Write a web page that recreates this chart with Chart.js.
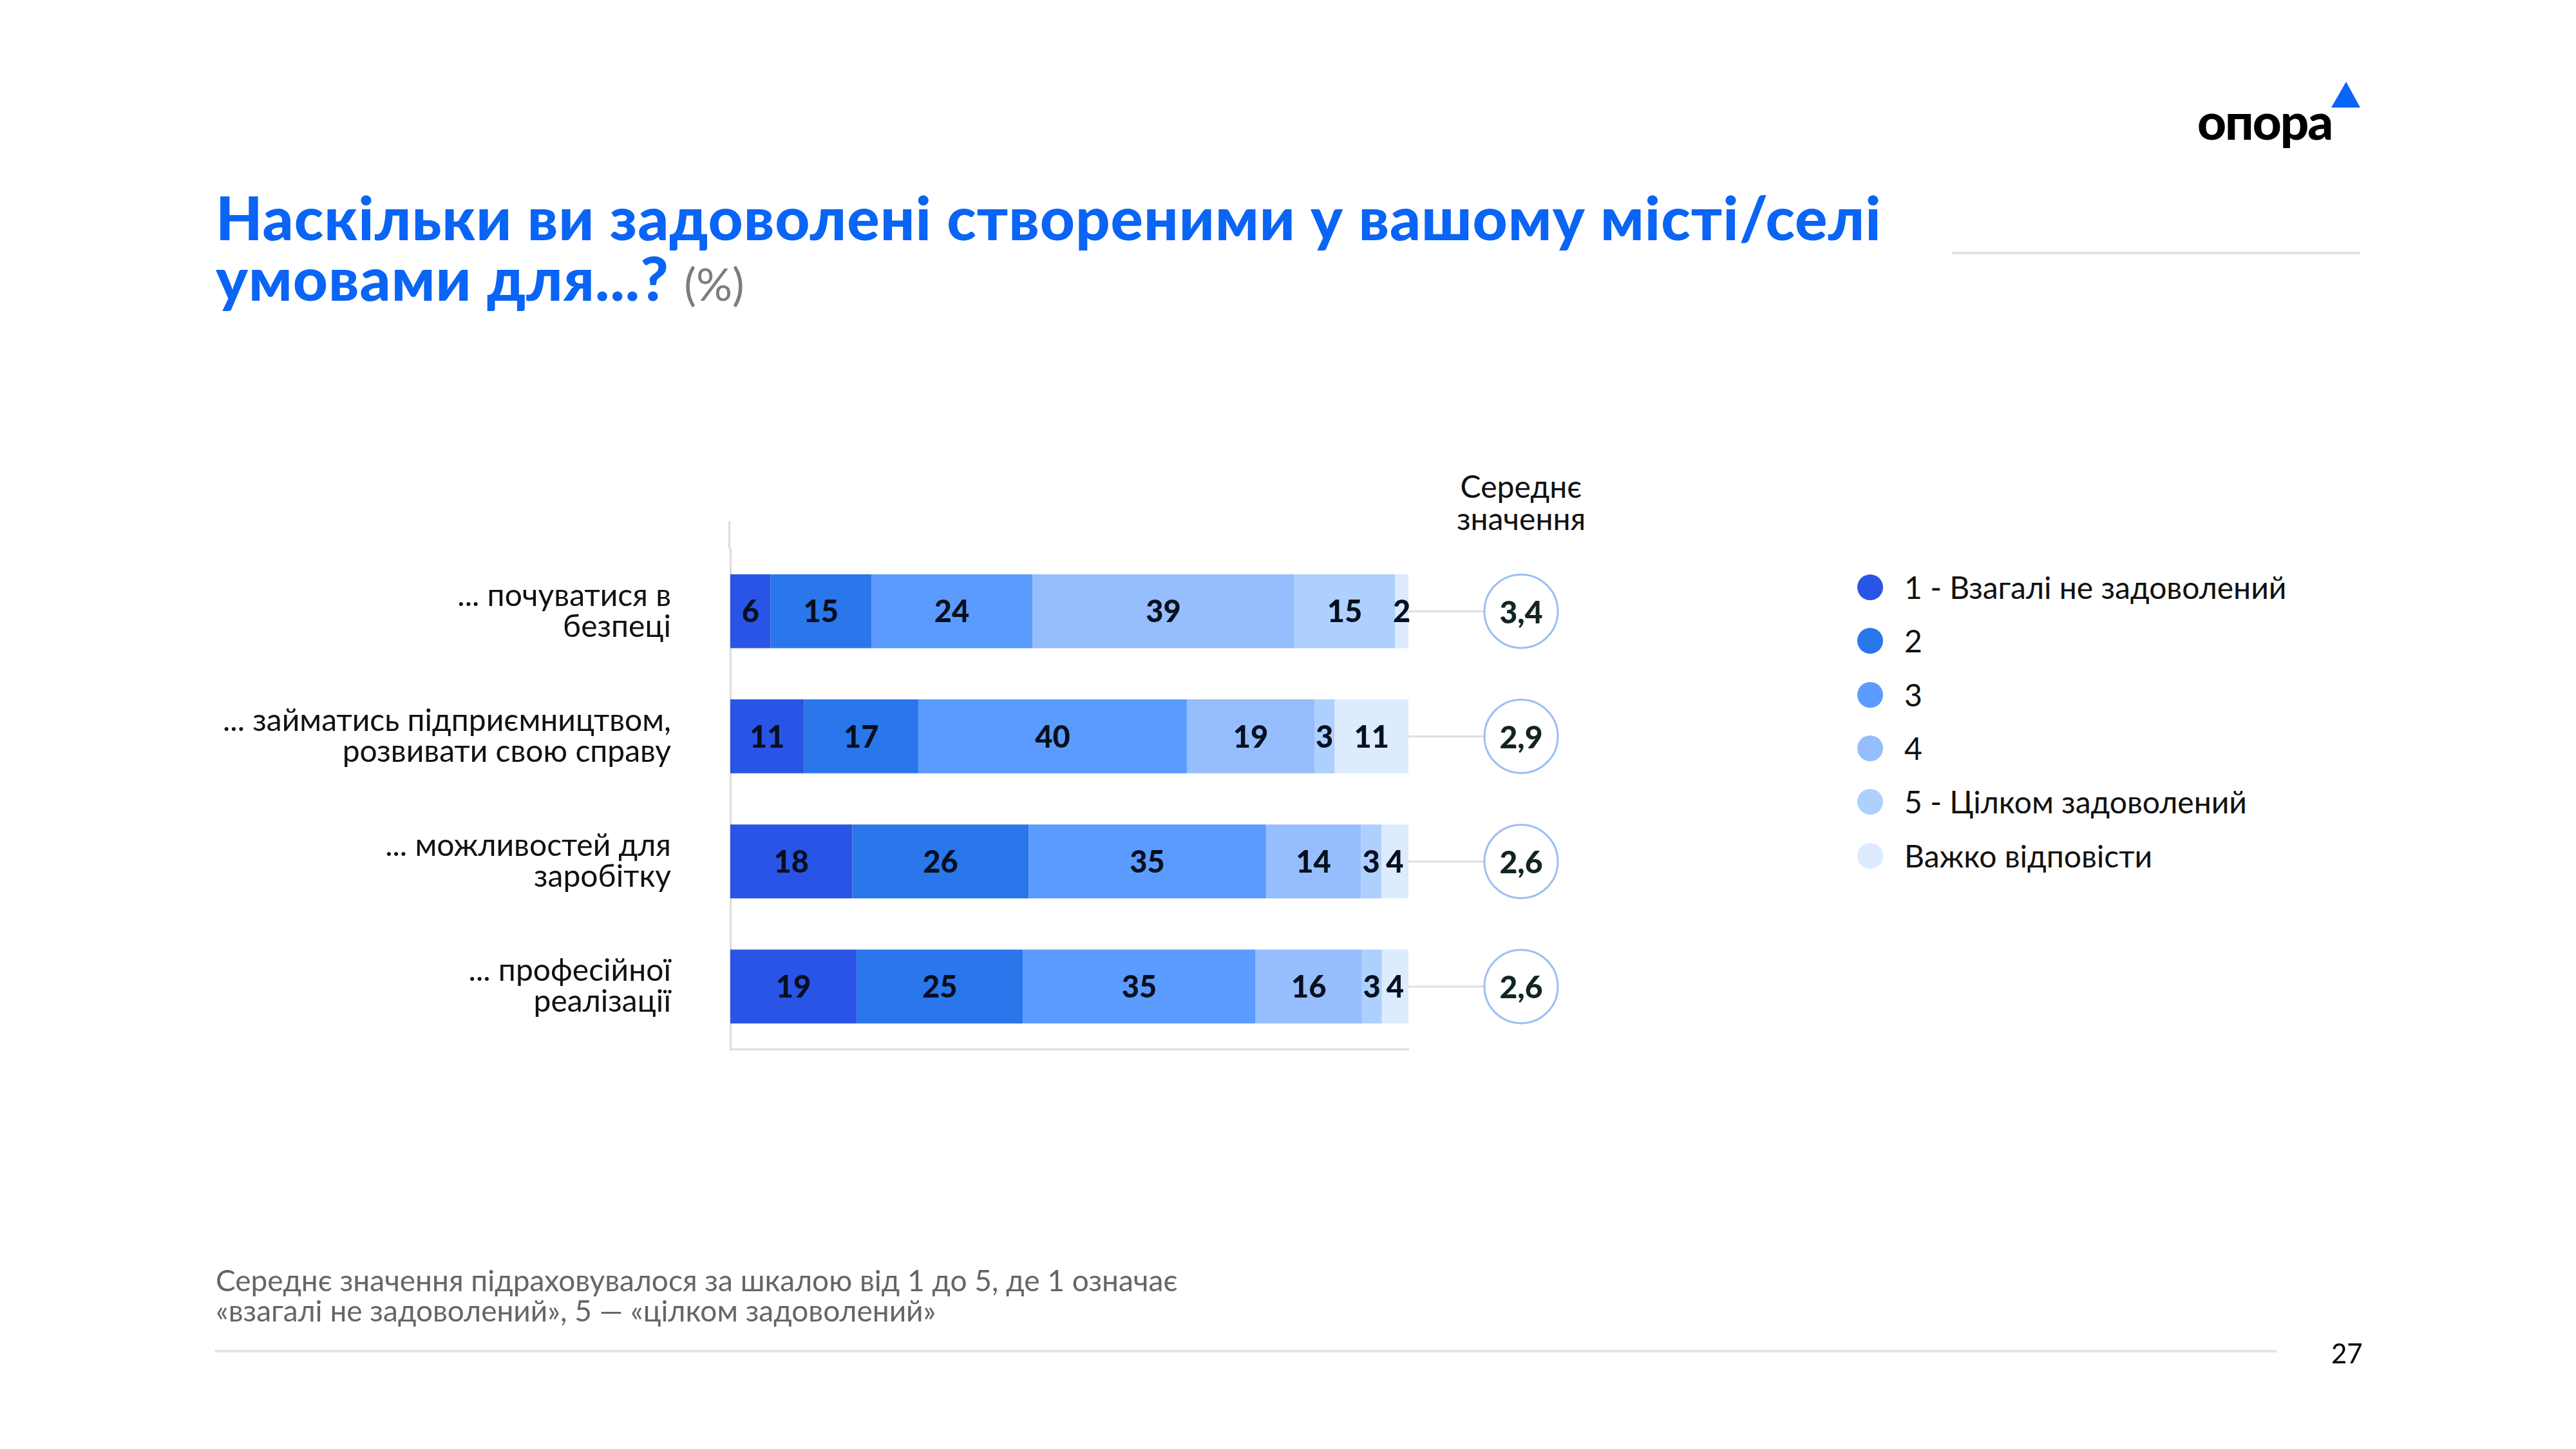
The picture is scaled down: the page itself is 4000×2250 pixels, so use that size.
<!DOCTYPE html>
<html lang="uk">
<head>
<meta charset="utf-8">
<title>Наскільки ви задоволені створеними у вашому місті/селі умовами</title>
<script src="https://cdn.jsdelivr.net/npm/chart.js@4.4.1/dist/chart.umd.min.js"></script>
<style>
  html, body { margin: 0; padding: 0; background: #fff; }
  body { width: 4000px; height: 2250px; position: relative; overflow: hidden; font-family: 'Lato', 'Noto Sans', sans-serif; color: #111; }
  #chart { position: absolute; left: 0; top: 0; }
  .abs { position: absolute; white-space: nowrap; }
  #title { left: 335px; top: 290px; font-size: 94px; line-height: 94px; font-weight: 900; color: #0a64f5; letter-spacing: 1px; }
  #title span { font-weight: 400; color: #7d7d7d; font-size: 70px; letter-spacing: 0; }
  #logo { left: 3412px; top: 140px; font-size: 78px; line-height: 94px; font-weight: 900; color: #000; letter-spacing: -2px; }
  #tri { position: absolute; left: 3618px; top: 126px; }
  .rule { position: absolute; height: 4px; background: #e3e3e3; }
  #meanHead { left: 2212px; top: 730px; width: 300px; text-align: center; font-size: 48px; line-height: 50px; color: #111; }
  #legend { left: 2884px; top: 0; }
  .leg { position: absolute; left: 0; height: 40px; }
  .leg i { position: absolute; left: 0; top: 0; width: 40px; height: 40px; border-radius: 50%; }
  .leg b { position: absolute; left: 73px; top: -9px; font-weight: 400; font-size: 48px; line-height: 58px; color: #111; }
  #note { left: 335px; top: 1964px; font-size: 46px; line-height: 47px; color: #666; }
  #page { left: 3620px; top: 2076px; font-size: 42px; line-height: 50px; color: #000; }
</style>
</head>
<body>
<div id="title" class="abs">Наскільки ви задоволені створеними у вашому місті/селі<br>умовами для...? <span>(%)</span></div>
<div id="logo" class="abs">опора</div>
<svg id="tri" width="50" height="44"><polygon points="25,1 2,41 47,41" fill="#0a64f5"/></svg>
<div class="rule" style="left:3031px; top:391px; width:634px;"></div>
<div id="meanHead" class="abs">Середнє<br>значення</div>
<div id="legend" class="abs"></div>
<canvas id="chart" width="4000" height="2250"></canvas>
<div id="note" class="abs">Середнє значення підраховувалося за шкалою від 1 до 5, де 1 означає<br>«взагалі не задоволений», 5 — «цілком задоволений»</div>
<div class="rule" style="left:334px; top:2096px; width:3201px;"></div>
<div id="page" class="abs">27</div>

<script>
// categories (multi-line labels as in the slide)
const categories = [
  ['... почуватися в', 'безпеці'],
  ['... займатись підприємництвом,', 'розвивати свою справу'],
  ['... можливостей для', 'заробітку'],
  ['... професійної', 'реалізації']
];

const seriesNames = ['1 - Взагалі не задоволений', '2', '3', '4', '5 - Цілком задоволений', 'Важко відповісти'];
const seriesColors = ['#2a54e6', '#2a76eb', '#5b9bfd', '#96bdfd', '#aed0fe', '#ddebfe'];

// percentages per answer, one value per category
const s1 = [6, 11, 18, 19];
const s2 = [15, 17, 26, 25];
const s3 = [24, 40, 35, 35];
const s4 = [39, 19, 14, 16];
const s5 = [15, 3, 3, 3];
const sHard = [2, 11, 4, 4];

// average score per category
const means = ['3,4', '2,9', '2,6', '2,6'];

const series = [s1, s2, s3, s4, s5, sHard];

// rows don't always add up to exactly 100 (rounding), bars are drawn full width
const rowTotals = categories.map((c, i) => series.reduce((sum, s) => sum + s[i], 0));

// legend (html)
const legendEl = document.getElementById('legend');
seriesNames.forEach((name, k) => {
  const row = document.createElement('div');
  row.className = 'leg';
  row.style.top = (892 + k * 83.3) + 'px';
  row.innerHTML = '<i style="background:' + seriesColors[k] + '"></i><b>' + name + '</b>';
  legendEl.appendChild(row);
});

const MEAN_DX = 175;   // distance of the mean circles from the end of the bars
const MEAN_R = 57;

const barLabels = {
  id: 'barLabels',
  afterDatasetsDraw(chart) {
    const ctx = chart.ctx;
    ctx.save();
    ctx.font = '900 47px Lato, "Noto Sans", sans-serif';
    ctx.fillStyle = '#07101f';
    ctx.textAlign = 'center';
    ctx.textBaseline = 'middle';
    chart.data.datasets.forEach((ds, d) => {
      chart.getDatasetMeta(d).data.forEach((bar, i) => {
        const x = (bar.x + bar.base) / 2;
        ctx.fillText(String(ds.raw[i]), x, bar.y + 2);
      });
    });
    ctx.restore();
  }
};

const meanCircles = {
  id: 'meanCircles',
  afterDraw(chart) {
    const ctx = chart.ctx;
    const area = chart.chartArea;
    const yScale = chart.scales.y;
    const cx = area.right + MEAN_DX;
    ctx.save();
    // axis line runs a bit above the first band
    ctx.strokeStyle = '#dcdcdc';
    ctx.lineWidth = 3;
    ctx.beginPath();
    ctx.moveTo(area.left - 1.5, area.top - 43);
    ctx.lineTo(area.left - 1.5, area.top);
    ctx.stroke();

    means.forEach((m, i) => {
      const y = yScale.getPixelForValue(i);
      ctx.strokeStyle = '#dedede';
      ctx.lineWidth = 3;
      ctx.beginPath();
      ctx.moveTo(area.right, y);
      ctx.lineTo(cx - MEAN_R, y);
      ctx.stroke();

      ctx.beginPath();
      ctx.arc(cx, y, MEAN_R, 0, Math.PI * 2);
      ctx.fillStyle = '#fff';
      ctx.fill();
      ctx.strokeStyle = '#9bbff3';
      ctx.lineWidth = 3;
      ctx.stroke();

      ctx.font = '900 48px Lato, "Noto Sans", sans-serif';
      ctx.fillStyle = '#122424';
      ctx.textAlign = 'center';
      ctx.textBaseline = 'middle';
      ctx.fillText(m, cx, y + 3);
    });
    ctx.restore();
  }
};

const ctx = document.getElementById('chart').getContext('2d');
const chart = new Chart(ctx, {
  type: 'bar',
  data: {
    labels: categories,
    datasets: series.map((s, k) => ({
      label: seriesNames[k],
      data: s.map((v, i) => v / rowTotals[i] * 100),
      raw: s,
      backgroundColor: seriesColors[k],
      borderWidth: 0,
      barPercentage: 1,
      categoryPercentage: 0.59
    }))
  },
  options: {
    indexAxis: 'y',
    responsive: false,
    devicePixelRatio: 1,
    animation: false,
    layout: { padding: { left: 0, top: 852, right: 1813, bottom: 621 } },
    plugins: {
      legend: { display: false },
      tooltip: { enabled: false }
    },
    scales: {
      x: {
        stacked: true,
        min: 0,
        max: 100,
        ticks: { display: false },
        grid: { display: false, drawTicks: false },
        border: { display: true, color: '#dcdcdc', width: 3 },
        afterFit(scale) { scale.height = 0; }
      },
      y: {
        stacked: true,
        ticks: {
          color: '#111',
          padding: 92,
          font: { family: 'Lato, "Noto Sans", sans-serif', size: 48, lineHeight: 1.0 }
        },
        grid: { display: false, drawTicks: false },
        border: { display: true, color: '#dcdcdc', width: 3 },
        afterFit(scale) { scale.width = 1134; }
      }
    }
  },
  plugins: [barLabels, meanCircles]
});
</script>
</body>
</html>
